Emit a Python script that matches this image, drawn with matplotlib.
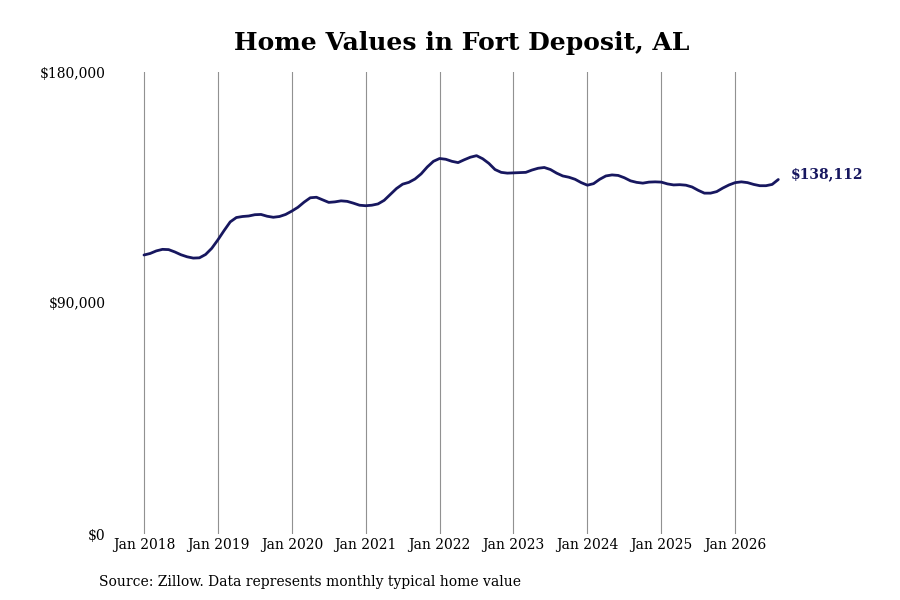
import numpy as np
import matplotlib
matplotlib.use('Agg')
import matplotlib.pyplot as plt
from matplotlib.ticker import FuncFormatter

# monthly typical home value, Jan 2018 .. Aug 2026 (thousands of $)
values_2018 = [108.7, 109.3, 110.3, 110.9, 110.8, 109.9, 108.8, 108.0, 107.5, 107.6, 108.9, 111.3]
values_2019 = [114.6, 118.2, 121.6, 123.3, 123.7, 123.9, 124.4, 124.5, 123.8, 123.4, 123.7, 124.5]
values_2020 = [125.8, 127.3, 129.3, 131.0, 131.2, 130.2, 129.2, 129.4, 129.8, 129.6, 128.9, 128.1]
values_2021 = [127.9, 128.1, 128.6, 130.0, 132.3, 134.6, 136.3, 137.0, 138.3, 140.3, 143.0, 145.2]
values_2022 = [146.3, 146.0, 145.2, 144.7, 145.8, 146.8, 147.4, 146.2, 144.4, 142.0, 140.9, 140.6]
values_2023 = [140.7, 140.8, 140.9, 141.8, 142.5, 142.8, 142.0, 140.6, 139.5, 139.0, 138.2, 136.9]
values_2024 = [135.9, 136.5, 138.2, 139.5, 139.9, 139.7, 138.8, 137.6, 137.0, 136.7, 137.1, 137.2]
values_2025 = [137.1, 136.4, 136.0, 136.1, 135.9, 135.2, 133.9, 132.8, 132.8, 133.4, 134.8, 136.0]
values_2026 = [136.9, 137.2, 136.9, 136.2, 135.7, 135.7, 136.2, 138.112]

year_labels = ['Jan 2018', 'Jan 2019', 'Jan 2020', 'Jan 2021', 'Jan 2022',
               'Jan 2023', 'Jan 2024', 'Jan 2025', 'Jan 2026']
y_ticks = [0, 90000, 180000]

values = np.array(values_2018 + values_2019 + values_2020 + values_2021 + values_2022 +
                  values_2023 + values_2024 + values_2025 + values_2026) * 1000
months = np.arange(len(values))

plt.rcParams['font.family'] = 'DejaVu Serif'

fig = plt.figure(figsize=(9, 6), dpi=100)
ax = fig.add_axes([110/900, 66/600, 680/900, 462/600])

line_color = '#17175f'
ax.plot(months, values, color=line_color, lw=2, solid_capstyle='round')

ax.set_xlim(-5.52, 104.9)
ax.set_ylim(0, 180000)
ax.set_xticks(np.arange(len(year_labels)) * 12)
ax.set_xticklabels(year_labels, fontsize=10)
ax.set_yticks(y_ticks)
ax.yaxis.set_major_formatter(FuncFormatter(lambda v, p: '${:,.0f}'.format(v)))
ax.tick_params(axis='y', length=0, pad=3, labelsize=10)
ax.tick_params(axis='x', length=0, pad=3)
ax.grid(axis='x', color='#919191', lw=0.8)
ax.set_axisbelow(True)
for s in ax.spines.values():
    s.set_visible(False)

ax.annotate('${:,.0f}'.format(values[-1]), (months[-1], values[-1]),
            xytext=(9, 4), textcoords='offset points', va='center', ha='left',
            fontsize=10, fontweight='bold', color=line_color)

fig.text(462/900, 1 - 43/600, 'Home Values in Fort Deposit, AL', ha='center', va='center',
         fontsize=18, fontweight='bold')
fig.text(99/900, 1 - 582/600, 'Source: Zillow. Data represents monthly typical home value',
         ha='left', va='center', fontsize=10)

fig.savefig('out.png', dpi=100)
